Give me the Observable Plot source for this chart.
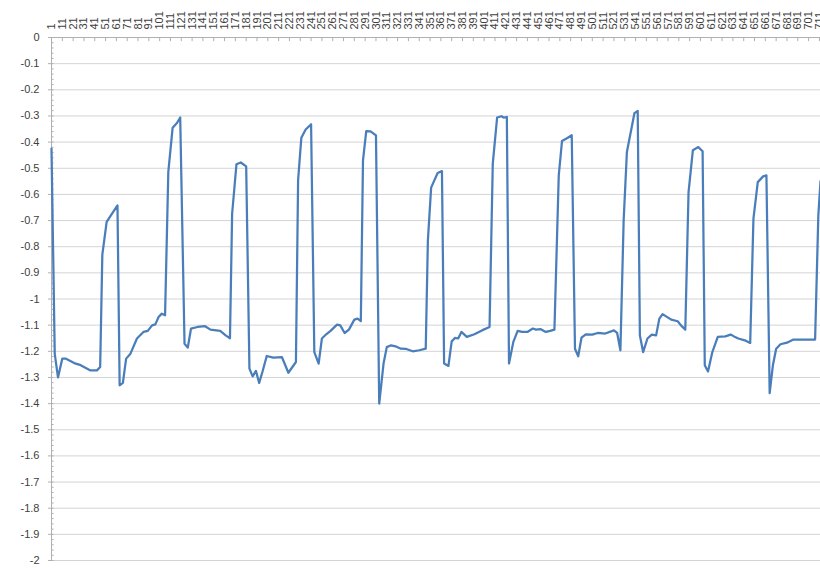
<!DOCTYPE html>
<html><head><meta charset="utf-8">
<script src="https://cdn.jsdelivr.net/npm/d3@7"></script>
<script src="https://cdn.jsdelivr.net/npm/@observablehq/plot@0.6"></script>
<style>
html,body{margin:0;padding:0;background:#fff;overflow:hidden}
#wrap{position:relative;width:820px;height:568px}
#frame{position:absolute;left:11px;top:0;width:1px;height:568px;background:#a6a6a6}
</style></head>
<body><div id="wrap"><div id="frame"></div></div>
<script>
// sample index (category) of each vertex
const pointIndex = [1,4,7,11,14,22,28,37,43,46,48,52,62,64,67,70,74,80,86,90,94,97,100,103,106,109,113,117,120,124,127,130,136,143,148,157,162,166,168,172,176,181,184,187,190,193,196,200,206,214,220,227,229,232,236,241,244,248,251,255,259,265,268,272,276,281,284,287,289,292,296,301,304,308,311,315,319,324,329,335,341,347,349,352,358,362,364,368,371,374,377,380,385,392,399,406,409,413,417,419,422,424,428,432,436,441,446,449,453,458,462,466,470,473,478,482,485,488,491,495,501,506,513,521,524,527,530,533,540,543,545,548,552,556,560,563,566,574,580,583,587,590,594,599,603,605,608,612,617,624,629,632,636,642,647,650,654,659,662,665,668,671,675,681,687,694,707,710,712];
// value of each vertex
const pointValue = [-0.425,-1.21,-1.30,-1.228,-1.228,-1.245,-1.253,-1.273,-1.273,-1.26,-0.83,-0.705,-0.642,-1.33,-1.321,-1.228,-1.209,-1.151,-1.126,-1.122,-1.101,-1.097,-1.069,-1.056,-1.062,-0.514,-0.345,-0.327,-0.306,-1.171,-1.186,-1.113,-1.107,-1.104,-1.117,-1.122,-1.139,-1.150,-0.674,-0.485,-0.478,-0.493,-1.266,-1.296,-1.275,-1.321,-1.279,-1.218,-1.224,-1.222,-1.282,-1.241,-0.546,-0.383,-0.352,-0.332,-1.203,-1.247,-1.151,-1.135,-1.122,-1.098,-1.101,-1.130,-1.117,-1.079,-1.075,-1.084,-0.470,-0.358,-0.359,-0.374,-1.400,-1.247,-1.184,-1.177,-1.181,-1.190,-1.191,-1.200,-1.196,-1.190,-0.776,-0.574,-0.518,-0.511,-1.247,-1.256,-1.162,-1.149,-1.151,-1.126,-1.145,-1.135,-1.120,-1.107,-0.482,-0.306,-0.301,-0.306,-0.304,-1.247,-1.164,-1.122,-1.126,-1.126,-1.113,-1.117,-1.115,-1.126,-1.122,-1.117,-0.527,-0.396,-0.384,-0.374,-1.19,-1.219,-1.148,-1.135,-1.136,-1.130,-1.132,-1.120,-1.130,-1.196,-0.699,-0.438,-0.289,-0.281,-1.139,-1.203,-1.151,-1.136,-1.139,-1.075,-1.058,-1.079,-1.085,-1.101,-1.117,-0.591,-0.431,-0.419,-0.435,-1.253,-1.277,-1.203,-1.145,-1.143,-1.136,-1.143,-1.151,-1.158,-1.168,-0.693,-0.553,-0.531,-0.527,-1.36,-1.253,-1.19,-1.173,-1.167,-1.155,-1.155,-1.155,-0.68,-0.55];
const xTickLabels = [1,11,21,31,41,51,61,71,81,91,101,111,121,131,141,151,161,171,181,191,201,211,221,231,241,251,261,271,281,291,301,311,321,331,341,351,361,371,381,391,401,411,421,431,441,451,461,471,481,491,501,511,521,531,541,551,561,571,581,591,601,611,621,631,641,651,661,671,681,691,701,711];
const yTickValues = [0,-0.1,-0.2,-0.3,-0.4,-0.5,-0.6,-0.7,-0.8,-0.9,-1,-1.1,-1.2,-1.3,-1.4,-1.5,-1.6,-1.7,-1.8,-1.9,-2];
const yMinorTicks = d3.range(0, 101).map(k => -k * 0.02);

const data = pointIndex.map((x, k) => ({x, y: pointValue[k]}));
const axisGray = "#b0b0b0";
const chart = Plot.plot({
  width: 820, height: 568,
  marginLeft: 51, marginRight: 0, marginTop: 37, marginBottom: 8,
  x: {domain: [1, 712], axis: null},
  y: {domain: [-2, 0], axis: "left", ticks: yTickValues, tickFormat: d => String(+d.toFixed(1)), tickSize: 0, tickPadding: 12, label: null},
  style: {fontFamily: "'Liberation Sans', Arial, sans-serif", fontSize: "11px", color: "#404040", background: "white", overflow: "visible"},
  marks: [
    Plot.ruleY(yTickValues.filter(d => d !== 0), {x1: 1, x2: 712, stroke: "#d4d4d4"}),
    Plot.ruleY(yTickValues, {x1: -1.8, x2: 1, stroke: axisGray}),
    Plot.ruleY(yMinorTicks, {x1: 1, x2: 3.4, stroke: axisGray}),
    Plot.ruleX([1], {y1: -2, y2: 0, stroke: axisGray}),
    Plot.ruleY([0], {x1: 1, x2: 712, stroke: axisGray}),
    Plot.ruleX(xTickLabels, {x: d => d, y1: 0, y2: -0.016, stroke: axisGray}),
    Plot.text(xTickLabels, {x: d => d, y: 0, text: d => String(d), rotate: -90, textAnchor: "start", dy: -8, fill: "#404040"}),
    Plot.line(data, {x: "x", y: "y", stroke: "#4a7ebb", strokeWidth: 2.25, strokeLinejoin: "round"})
  ]
});
chart.style.position = "absolute";
chart.style.left = "0px";
chart.style.top = "0px";
document.getElementById("wrap").appendChild(chart);
</script>
</body></html>
